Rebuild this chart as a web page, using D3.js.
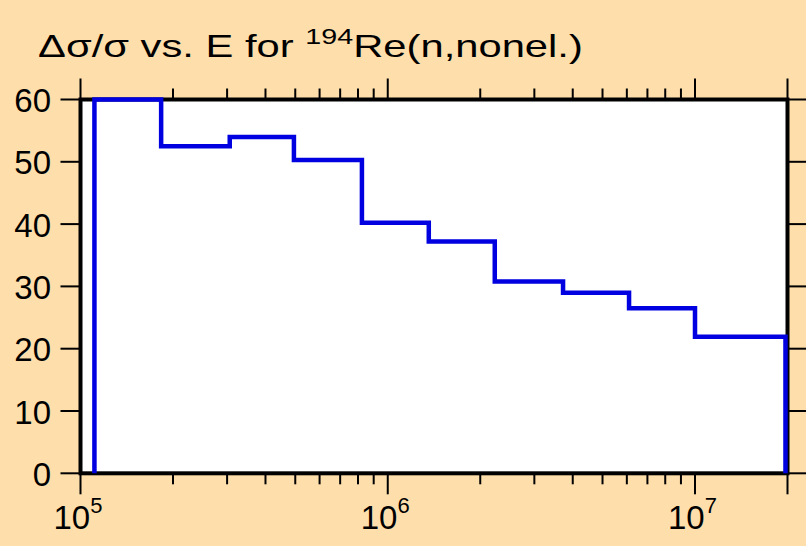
<!DOCTYPE html>
<html><head><meta charset="utf-8">
<script src="https://cdn.jsdelivr.net/npm/d3@7"></script>
<style>body{margin:0;background:#FEDEAB;} svg{display:block;font-family:"Liberation Sans",Arial,sans-serif;}</style>
</head><body>
<svg id="c" width="806" height="546"></svg>
<script>
// Bin edges (eV) and relative uncertainty values (%)
const edges = [1.11e5, 1.83e5, 3.06e5, 4.95e5, 8.24e5, 1.36e6, 2.23e6, 3.72e6, 6.1e6, 1e7, 1.97e7];
const values = [60, 52.5, 54, 50.3, 40.2, 37.2, 30.8, 29.0, 26.5, 21.9];
const yTicks = [0, 10, 20, 30, 40, 50, 60];
const xMajor = [1e5, 1e6, 1e7];
const xMajorExp = ["5", "6", "7"];

const svg = d3.select("#c");
const L = 80.5, R = 787.5, T = 99.5, B = 473.3;
const x = d3.scaleLog().domain([1e5, 2e7]).range([L, R]);
const y = d3.scaleLinear().domain([0, 60]).range([B, T]);

svg.append("rect").attr("width",806).attr("height",546).attr("fill","#FEDEAB");
svg.append("rect").attr("x",L).attr("y",T).attr("width",R-L).attr("height",B-T).attr("fill","#fff");

// ticks
const minor = [];
for (let d = 1e5; d < 2e7; d *= 10) for (let k = 2; k <= 9; k++) { const v = k*d; if (v < 2e7) minor.push(v); }
const g = svg.append("g").attr("stroke","#000").attr("stroke-width",2);
minor.forEach(v => {
  g.append("line").attr("x1",x(v)).attr("x2",x(v)).attr("y1",B).attr("y2",B+11);
  g.append("line").attr("x1",x(v)).attr("x2",x(v)).attr("y1",T).attr("y2",T-11);
});
[...xMajor, 2e7].forEach(v => {
  g.append("line").attr("x1",x(v)).attr("x2",x(v)).attr("y1",B).attr("y2",B+21);
  g.append("line").attr("x1",x(v)).attr("x2",x(v)).attr("y1",T).attr("y2",T-21);
});
yTicks.forEach(v => {
  g.append("line").attr("x1",L-20).attr("x2",L).attr("y1",y(v)).attr("y2",y(v));
  g.append("line").attr("x1",R).attr("x2",806).attr("y1",y(v)).attr("y2",y(v));
});

// frame
svg.append("rect").attr("x",L).attr("y",T).attr("width",R-L).attr("height",B-T)
  .attr("fill","none").attr("stroke","#000").attr("stroke-width",4);

// step line (drawn over the frame)
const pts = [[edges[0], 0]];
values.forEach((v,i) => { pts.push([edges[i], v]); pts.push([edges[i+1], v]); });
pts.push([edges[edges.length-1], 0]);
svg.append("path")
  .attr("d", d3.line().x(d => x(d[0])).y(d => y(d[1]))(pts))
  .attr("fill","none").attr("stroke","#0000E0").attr("stroke-width",4.5).attr("stroke-linejoin","miter");

// y labels
svg.append("g").selectAll("text").data(yTicks).join("text")
  .attr("x",51).attr("y",d => y(d)+12.5).attr("text-anchor","end")
  .attr("font-size",33).text(d => d);

// x labels
xMajor.forEach((v,i) => {
  const t = svg.append("text").attr("x",x(v)-27).attr("y",529).attr("font-size",33);
  t.append("tspan").text("10");
  t.append("tspan").attr("font-size",22).attr("dy",-16).text(xMajorExp[i]);
});

// title
const tt = svg.append("text").attr("font-size",32);
tt.append("tspan").text("Δσ/σ vs. E for ");
tt.append("tspan").attr("font-size",22).attr("dy",-13).text("194");
tt.append("tspan").attr("dy",13).text("Re(n,nonel.)");
const bb = tt.node().getBBox();
const sx = 545 / bb.width;
tt.attr("transform", `translate(${38 - bb.x*sx},56.5) scale(${sx},1)`);
</script>
</body></html>
